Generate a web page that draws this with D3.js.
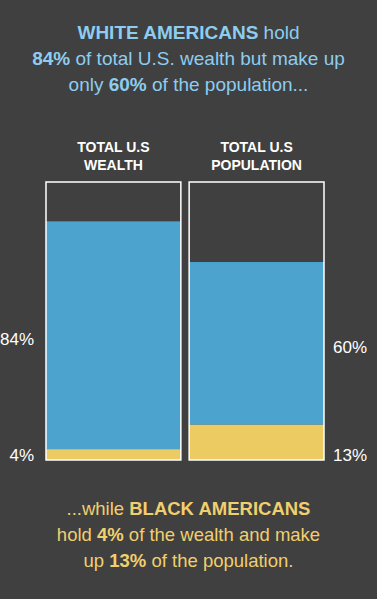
<!DOCTYPE html>
<html>
<head>
<meta charset="utf-8">
<script src="https://cdn.jsdelivr.net/npm/d3@7"></script>
<style>
  html, body { margin: 0; padding: 0; background: #404040; }
  svg { display: block; }
</style>
</head>
<body>
<svg id="chart" width="377" height="599"></svg>
<script>
// chart data
const columns = ["wealth", "population"];
const columnTitles = [["TOTAL U.S", "WEALTH"], ["TOTAL U.S", "POPULATION"]];
const whiteShare = [84, 60];
const blackShare = [4, 13];

const headLines = [
  [["WHITE AMERICANS", true], [" hold", false]],
  [["84%", true], [" of total U.S. wealth but make up", false]],
  [["only ", false], ["60%", true], [" of the population...", false]]
];
const footLines = [
  [["...while ", false], ["BLACK AMERICANS", true]],
  [["hold ", false], ["4%", true], [" of the wealth and make", false]],
  [["up ", false], ["13%", true], [" of the population.", false]]
];

const BLUE = "#4ba3ce", YELLOW = "#eccb62";
const svg = d3.select("#chart");
const font = "'Liberation Sans', Arial, sans-serif";
const narrow = "'Liberation Sans Narrow', 'Liberation Sans', Arial, sans-serif";

const x = d3.scaleBand().domain(columns).range([46, 324]).paddingInner(0.058);
const y = d3.scaleLinear().domain([0, 102.5]).range([460, 182]);

// text blocks
function textBlock(lines, y0, color, size) {
  lines.forEach((parts, i) => {
    const t = svg.append("text")
      .attr("x", 188.5).attr("y", y0 + i * 26)
      .attr("text-anchor", "middle")
      .attr("font-family", font)
      .attr("font-size", size)
      .attr("fill", color);
    parts.forEach(([s, bold]) => {
      t.append("tspan").text(s).attr("font-weight", bold ? 700 : 400);
    });
  });
}
textBlock(headLines, 39, "#8ccdf0", 19);
textBlock(footLines, 515, "#f0cf6e", 18.5);

// columns
const col = svg.selectAll(".col")
  .data(columns)
  .enter()
  .append("g")
  .attr("class", "col");

col.append("rect")
  .attr("x", (d) => x(d))
  .attr("width", x.bandwidth())
  .attr("y", (d, i) => y(whiteShare[i] + blackShare[i]))
  .attr("height", (d, i) => y(blackShare[i]) - y(whiteShare[i] + blackShare[i]))
  .attr("fill", BLUE);

col.append("rect")
  .attr("x", (d) => x(d))
  .attr("width", x.bandwidth())
  .attr("y", (d, i) => y(blackShare[i]))
  .attr("height", (d, i) => y(0) - y(blackShare[i]))
  .attr("fill", YELLOW);

col.append("rect")
  .attr("x", (d) => x(d))
  .attr("width", x.bandwidth())
  .attr("y", y.range()[1])
  .attr("height", y(0) - y.range()[1])
  .attr("fill", "none")
  .attr("stroke", "#fff")
  .attr("stroke-width", 1.5);

col.each(function (d, i) {
  const g = d3.select(this);
  columnTitles[i].forEach((s, j) => {
    g.append("text")
      .attr("x", x(d) + x.bandwidth() / 2)
      .attr("y", 152 + j * 18)
      .attr("text-anchor", "middle")
      .attr("font-family", narrow)
      .attr("font-weight", 700)
      .attr("font-size", 14)
      .attr("fill", "#fff")
      .text(s);
  });
});

// value labels outside each column
col.each(function (d, i) {
  const g = d3.select(this);
  const left = i === 0;
  const lx = left ? x(d) - 12 : x(d) + x.bandwidth() + 9;
  const anchor = left ? "end" : "start";
  const wMid = (y(blackShare[i]) + y(whiteShare[i] + blackShare[i])) / 2;
  g.append("text")
    .attr("x", lx).attr("y", wMid + 10)
    .attr("text-anchor", anchor)
    .attr("font-family", font).attr("font-size", 17)
    .attr("fill", "#fff")
    .text(whiteShare[i] + "%");
  g.append("text")
    .attr("x", lx).attr("y", y(0) + 1)
    .attr("text-anchor", anchor)
    .attr("font-family", font).attr("font-size", 17)
    .attr("fill", "#fff")
    .text(blackShare[i] + "%");
});
</script>
</body>
</html>
